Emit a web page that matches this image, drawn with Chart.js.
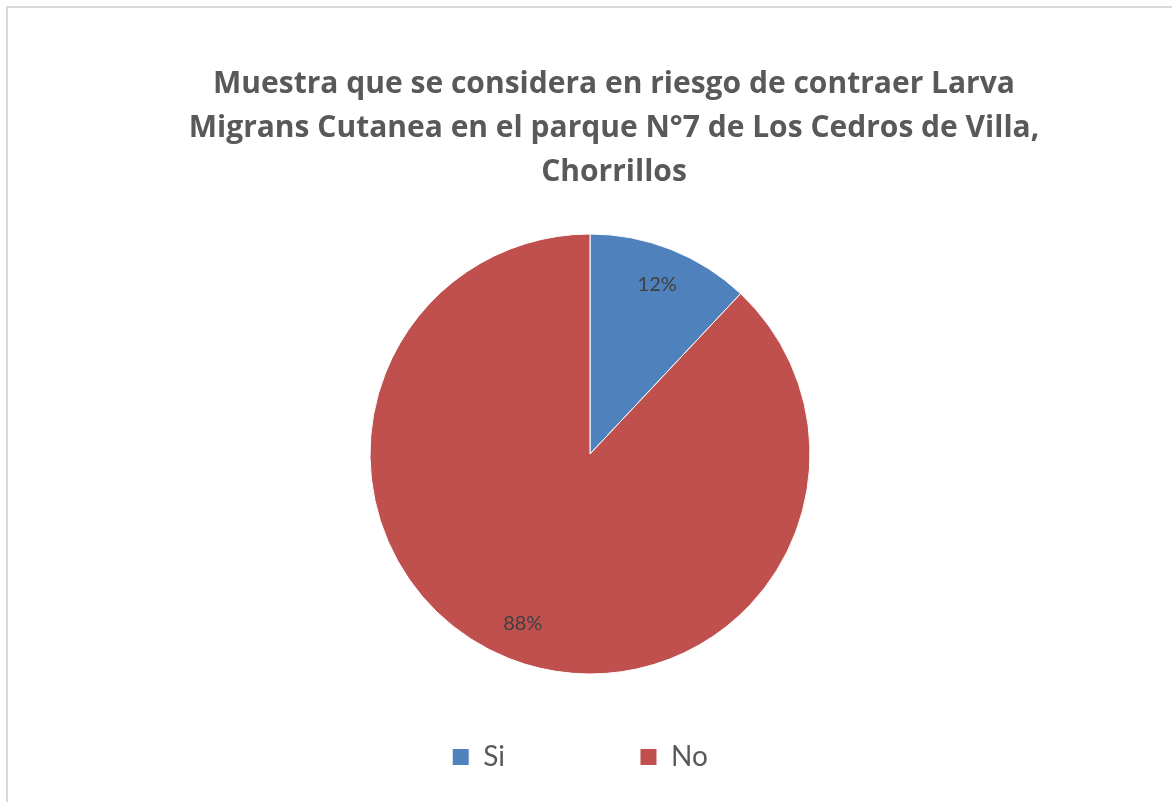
<!DOCTYPE html>
<html>
<head>
<meta charset="utf-8">
<script src="https://cdn.jsdelivr.net/npm/chart.js@4/dist/chart.umd.min.js"></script>
<style>
  html, body { margin: 0; padding: 0; background: #ffffff; overflow: hidden; }
  #frame {
    position: absolute; left: 6px; top: 6px; width: 1300px; height: 900px;
    border: 2px solid #d9d9d9;
  }
  #chart { position: absolute; left: 0; top: 0; }
</style>
</head>
<body>
<div id="frame"></div>
<canvas id="chart" width="1172" height="802"></canvas>
<script>
const titleLines = [
  'Muestra que se considera en riesgo de contraer Larva',
  'Migrans Cutanea en el parque N°7 de Los Cedros de Villa,',
  'Chorrillos'
];
const categories = ['Si', 'No'];
const percentValues = [12, 88];
const sliceColors = ['#4f81bd', '#c0504d'];

// percent labels inside the slices
const sliceLabels = {
  id: 'sliceLabels',
  afterDatasetsDraw(chart) {
    const ctx = chart.ctx;
    const meta = chart.getDatasetMeta(0);
    ctx.save();
    ctx.font = '20px Lato';
    ctx.fillStyle = '#404040';
    ctx.textAlign = 'center';
    ctx.textBaseline = 'middle';
    meta.data.forEach((arc, i) => {
      const p = arc.getProps(['x', 'y', 'startAngle', 'endAngle', 'outerRadius'], true);
      const mid = (p.startAngle + p.endAngle) / 2;
      const r = p.outerRadius * 0.83;
      ctx.fillText(percentValues[i] + '%', p.x + Math.cos(mid) * r, p.y + Math.sin(mid) * r);
    });
    ctx.restore();
  }
};

// title sits a bit right of the pie in the original, legend a bit left
const nudgeBoxes = {
  id: 'nudgeBoxes',
  afterLayout(chart) {
    if (chart.titleBlock) chart.titleBlock.left += 48;
    if (chart.legend) {
      chart.legend.left -= 10;
      chart.legend.right -= 10;
    }
  }
};

const ctx = document.getElementById('chart').getContext('2d');
new Chart(ctx, {
  type: 'pie',
  data: {
    labels: categories,
    datasets: [{
      data: percentValues,
      backgroundColor: sliceColors,
      borderColor: '#ffffff',
      borderWidth: 1,
      clip: false
    }]
  },
  options: {
    responsive: false,
    animation: false,
    radius: 220,
    layout: { padding: { left: 8, right: 0, top: 0, bottom: 21 } },
    plugins: {
      tooltip: { enabled: false },
      title: {
        display: true,
        text: titleLines,
        color: '#595959',
        font: { family: 'Open Sans', size: 30, weight: 'bold', lineHeight: 44 / 30 },
        padding: { top: 62, bottom: 106 }
      },
      legend: {
        position: 'bottom',
        labels: {
          boxWidth: 17,
          boxHeight: 17,
          padding: 135,
          color: '#595959',
          font: { family: 'Lato', size: 28 }
        }
      }
    }
  },
  plugins: [sliceLabels, nudgeBoxes]
});
</script>
</body>
</html>
